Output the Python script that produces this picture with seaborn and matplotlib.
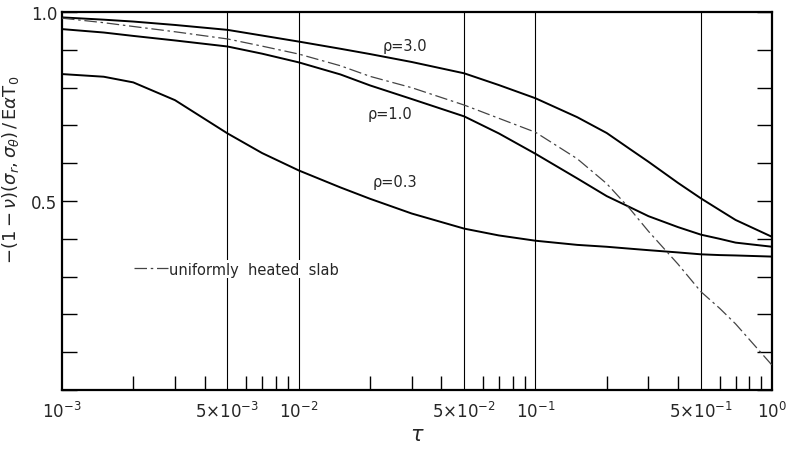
import numpy as np
import pandas as pd
import matplotlib
matplotlib.use('Agg')
import matplotlib.pyplot as plt
import matplotlib.ticker as mticker
import seaborn as sns

# values
tau = [1e-3, 1.5e-3, 2e-3, 3e-3, 5e-3, 7e-3, 1e-2, 1.5e-2, 2e-2, 3e-2,
       5e-2, 7e-2, 0.1, 0.15, 0.2, 0.25, 0.3, 0.4, 0.5, 0.6, 0.7, 1.0]
rho_30 = [0.986, 0.980, 0.975, 0.966, 0.953, 0.938, 0.922, 0.903, 0.889, 0.868,
          0.838, 0.807, 0.772, 0.722, 0.680, 0.638, 0.604, 0.548, 0.507, 0.476, 0.450, 0.405]
rho_10 = [0.955, 0.946, 0.937, 0.925, 0.909, 0.890, 0.867, 0.835, 0.806, 0.770,
          0.724, 0.679, 0.625, 0.560, 0.513, 0.484, 0.460, 0.431, 0.411, 0.400, 0.390, 0.379]
rho_03 = [0.836, 0.829, 0.814, 0.767, 0.679, 0.627, 0.581, 0.536, 0.506, 0.467,
          0.427, 0.409, 0.395, 0.384, 0.379, 0.374, 0.370, 0.364, 0.359, 0.357, 0.356, 0.353]
slab = [0.984, 0.972, 0.962, 0.948, 0.929, 0.910, 0.889, 0.858, 0.830, 0.800,
        0.754, 0.719, 0.682, 0.612, 0.546, 0.480, 0.420, 0.333, 0.260, 0.216, 0.175, 0.065]

curve_labels = ['ρ=3.0', 'ρ=1.0', 'ρ=0.3']
label_tau = [0.028, 0.0244, 0.0256]
label_y = [0.912, 0.732, 0.552]

grid_tau = [5e-3, 1e-2, 5e-2, 1e-1, 5e-1]
xtick_vals = [1e-3, 5e-3, 1e-2, 5e-2, 1e-1, 5e-1, 1.0]
xtick_text = [r'$10^{-3}$', r'$5{\times}10^{-3}$', r'$10^{-2}$', r'$5{\times}10^{-2}$',
              r'$10^{-1}$', r'$5{\times}10^{-1}$', r'$10^{0}$']

df = pd.DataFrame({'tau': tau, 'r30': rho_30, 'r10': rho_10, 'r03': rho_03, 'slab': slab})

sns.set_style('ticks')
plt.rcParams['font.family'] = ['DejaVu Sans']
plt.rcParams['mathtext.fontset'] = 'dejavusans'

fig = plt.figure(figsize=(7.9, 4.52), dpi=100)
ax = fig.add_axes([0.0785, 0.135, 0.899, 0.836])

for t in grid_tau:
    ax.axvline(t, color='black', lw=0.8, zorder=1)

for col in ['r30', 'r10', 'r03']:
    sns.lineplot(data=df, x='tau', y=col, ax=ax, color='black', lw=1.4,
                 estimator=None, sort=False, zorder=3)
sns.lineplot(data=df, x='tau', y='slab', ax=ax, color='#444444', lw=0.9,
             estimator=None, sort=False, zorder=3,
             label='uniformly  heated  slab')
ax.get_lines()[-1].set_dashes([10, 3, 2, 3])

for txt, tx, ty in zip(curve_labels, label_tau, label_y):
    ax.text(tx, ty, txt, ha='center', va='center', fontsize=10.5)

ax.set_xscale('log')
ax.set_xlim(1e-3, 1.0)
ax.set_ylim(0, 1.0)

ax.xaxis.set_major_locator(mticker.FixedLocator(xtick_vals))
ax.xaxis.set_major_formatter(mticker.FixedFormatter(xtick_text))
ax.xaxis.set_minor_locator(mticker.LogLocator(base=10, subs=np.arange(2, 10)))
ax.xaxis.set_minor_formatter(mticker.NullFormatter())
yt = np.linspace(0, 1, 11)
ax.set_yticks(yt)
ax.set_yticklabels([f'{v:.1f}' if round(v, 1) in (0.5, 1.0) else '' for v in yt])
ax.tick_params(axis='both', which='both', direction='in', width=1.0, color='black',
               labelsize=12, right=True)
ax.tick_params(axis='y', which='major', length=11)
ax.tick_params(axis='x', which='major', length=0, pad=8)
ax.tick_params(axis='x', which='minor', length=10)
for s in ax.spines.values():
    s.set_linewidth(1.6)
    s.set_color('black')

ax.set_xlabel(r'$\tau$', fontsize=15, labelpad=2)
ax.set_ylabel(r'$-(1-\nu)(\sigma_r,\sigma_\theta)\,/\,\mathrm{E}\alpha\mathrm{T}_0$', fontsize=13)
ax.yaxis.set_label_coords(-0.058, 0.586)

leg = ax.legend(loc='center left', bbox_to_anchor=(0.1, 0.32), frameon=True,
                fontsize=10.5, handlelength=2.3, handletextpad=0.1, borderpad=0.1,
                borderaxespad=0)
leg.get_frame().set_edgecolor('none')
leg.get_frame().set_facecolor('white')
leg.get_frame().set_alpha(1.0)

fig.savefig('out.png', dpi=100)
